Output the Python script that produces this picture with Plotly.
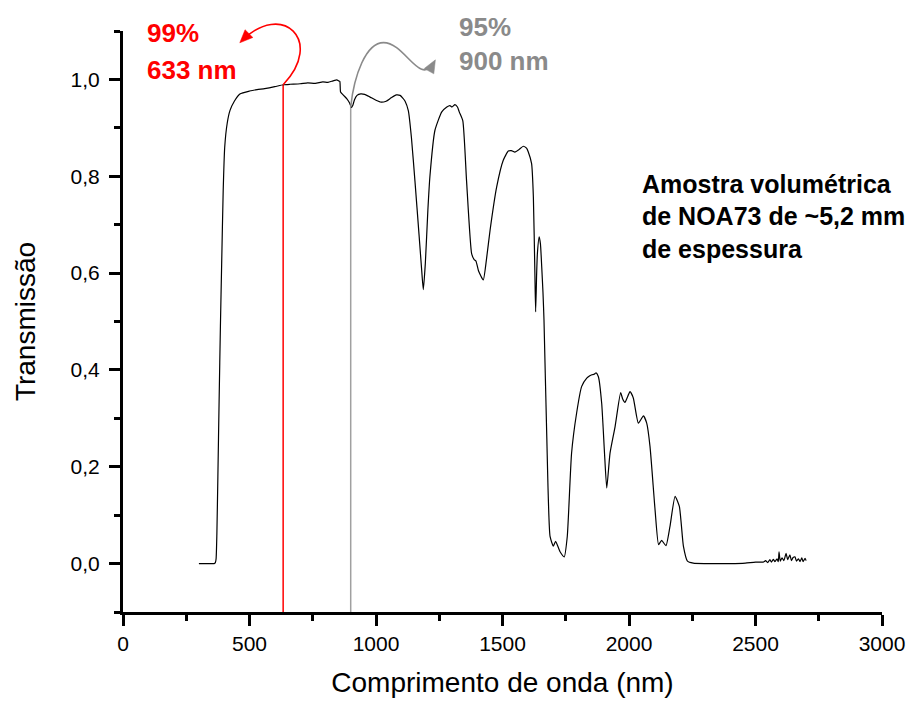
import plotly.graph_objects as go

# ---------------- data ----------------
wavelength = [300, 330, 360, 365, 368, 371, 375, 380, 385, 390, 396, 402, 412, 423, 440, 462,
              500, 530, 560, 600, 633, 660, 700, 730, 760, 790, 810, 830, 845, 852, 857,
              860, 870, 885, 895, 903, 908, 915, 925, 940, 955, 975, 1000, 1020, 1040, 1060,
              1080, 1095, 1105, 1115, 1128, 1140, 1154, 1170, 1180, 1187, 1195, 1205, 1213,
              1233, 1260, 1280, 1292, 1300, 1312, 1322, 1329, 1343, 1358, 1378, 1388, 1395,
              1405, 1424, 1437, 1451, 1477, 1503, 1523, 1535, 1549, 1565, 1582, 1595, 1602,
              1615, 1622, 1628, 1631, 1635, 1638, 1645, 1650, 1655, 1660, 1664, 1675, 1688,
              1701, 1710, 1727, 1744, 1756, 1773, 1793, 1813, 1833, 1845, 1853, 1862, 1870,
              1879, 1892, 1903, 1912, 1925, 1945, 1967, 1975, 1984, 2004, 2017, 2037, 2057,
              2070, 2083, 2103, 2117, 2129, 2146, 2162, 2182, 2199, 2215, 2231, 2254, 2300,
              2400, 2460, 2500, 2530, 2540, 2548, 2557, 2563, 2570, 2577, 2585, 2590, 2593,
              2598, 2605, 2612, 2621, 2627, 2636, 2642, 2648, 2656, 2662, 2670, 2676, 2683,
              2688, 2696, 2700]
transmission = [0.0, 0.0, 0.0, 0.002, 0.01, 0.06, 0.18, 0.34, 0.49, 0.62, 0.77, 0.86, 0.91, 0.936, 0.955, 0.970,
                0.976, 0.979, 0.981, 0.985, 0.989, 0.990, 0.991, 0.993, 0.992, 0.995, 0.994, 0.997, 0.999, 0.997, 0.996,
                0.974, 0.968, 0.960, 0.952, 0.942, 0.946, 0.958, 0.967, 0.970, 0.969, 0.964, 0.957, 0.953, 0.955, 0.962,
                0.968, 0.967, 0.962, 0.955, 0.935, 0.880, 0.790, 0.680, 0.610, 0.566, 0.620, 0.730, 0.799,
                0.895, 0.933, 0.943, 0.946, 0.943, 0.948, 0.943, 0.933, 0.915, 0.790, 0.640, 0.628, 0.625,
                0.605, 0.586, 0.630, 0.689, 0.778, 0.833, 0.852, 0.853, 0.850, 0.855, 0.862, 0.858, 0.850,
                0.826, 0.757, 0.600, 0.520, 0.600, 0.641, 0.675, 0.660, 0.613, 0.560, 0.503, 0.262, 0.056,
                0.036, 0.046, 0.025, 0.014, 0.056, 0.228, 0.311, 0.366, 0.383, 0.388, 0.390, 0.391, 0.394,
                0.386, 0.331, 0.230, 0.156, 0.228, 0.283, 0.353, 0.340, 0.333, 0.355, 0.342, 0.290, 0.305,
                0.290, 0.242, 0.111, 0.039, 0.048, 0.037, 0.077, 0.139, 0.118, 0.036, 0.005, 0.001, 0.0,
                0.0, 0.001, 0.003, 0.003, 0.006, 0.002, 0.008, 0.003, 0.009, 0.004, 0.010, 0.004, 0.024,
                0.005, 0.012, 0.006, 0.021, 0.008, 0.018, 0.006, 0.012, 0.014, 0.005, 0.010, 0.004, 0.012,
                0.004, 0.011, 0.006]

x_ticks = [0, 500, 1000, 1500, 2000, 2500, 3000]
y_ticks = [0.0, 0.2, 0.4, 0.6, 0.8, 1.0]

red_wl, red_T = 633, 0.989
gray_wl, gray_T = 900, 0.943

X_RANGE = [0, 3000]
Y_RANGE = [-0.1, 1.1]

# ---------------- layout geometry ----------------
W, H = 919, 705
ML, MR, MT, MB = 123, 37, 30.5, 93
PW, PH = W - ML - MR, H - MT - MB

def d2p(x, y):
    """data -> paper"""
    return ((x - X_RANGE[0]) / (X_RANGE[1] - X_RANGE[0]),
            (y - Y_RANGE[0]) / (Y_RANGE[1] - Y_RANGE[0]))

def path_from(points):
    px = [d2p(*p) for p in points]
    s = "M %.5f,%.5f" % px[0]
    for i in range(1, len(px), 3):
        s += " C %.5f,%.5f %.5f,%.5f %.5f,%.5f" % (px[i] + px[i + 1] + px[i + 2])
    return s

def arrowhead(ctrl, end, length=13, half=5.5, ext=3):
    cx, cy = d2p(*ctrl); ex, ey = d2p(*end)
    cx, cy, ex, ey = cx * PW, cy * PH, ex * PW, ey * PH
    dx, dy = ex - cx, ey - cy
    n = (dx * dx + dy * dy) ** 0.5
    dx, dy = dx / n, dy / n
    tx, ty = ex + dx * ext, ey + dy * ext
    bx, by = tx - dx * length, ty - dy * length
    nx, ny = -dy, dx
    pts = [(tx, ty), (bx + nx * half, by + ny * half), (bx - nx * half, by - ny * half)]
    return "M " + " L ".join("%.5f,%.5f" % (p[0] / PW, p[1] / PH) for p in pts) + " Z"

red_curve = [(red_wl, red_T), (798, 1.080), (628, 1.163), (470, 1.080)]
gray_curve = [(gray_wl, gray_T), (913, 1.008), (960, 1.076), (1030, 1.076),
              (1115, 1.076), (1174, 0.984), (1229, 1.035)]

RED = "#ff0000"
GRAY = "#8a8a8a"
FONT = "Arial, Liberation Sans, sans-serif"

fig = go.Figure()
fig.add_trace(go.Scatter(x=[red_wl, red_wl], y=[Y_RANGE[0], red_T], mode="lines",
                         line=dict(color=RED, width=1.5), hoverinfo="skip"))
fig.add_trace(go.Scatter(x=[gray_wl, gray_wl], y=[Y_RANGE[0], gray_T], mode="lines",
                         line=dict(color="#a0a0a0", width=1.5), hoverinfo="skip"))
fig.add_trace(go.Scatter(x=wavelength, y=transmission, mode="lines",
                         line=dict(color="black", width=1.2, shape="spline", smoothing=0.5)))

shapes = [
    dict(type="path", xref="paper", yref="paper", path=path_from(red_curve),
         line=dict(color=RED, width=1.6)),
    dict(type="path", xref="paper", yref="paper", path=arrowhead(red_curve[-2], red_curve[-1]),
         line=dict(color=RED, width=0.5), fillcolor=RED),
    dict(type="path", xref="paper", yref="paper", path=path_from(gray_curve),
         line=dict(color=GRAY, width=1.6)),
    dict(type="path", xref="paper", yref="paper", path=arrowhead(gray_curve[-2], gray_curve[-1]),
         line=dict(color=GRAY, width=0.5), fillcolor=GRAY),
]

def label(text, x, y, color, size=26):
    px, py = d2p(x, y)
    return dict(text="<b>%s</b>" % text, x=px, y=py, xref="paper", yref="paper", xanchor="left",
                yanchor="middle", showarrow=False, font=dict(family=FONT, size=size, color=color))

annotations = [
    label("99%", 85, 1.095, RED),
    label("633 nm", 85, 1.019, RED),
    label("95%", 1322, 1.109, GRAY),
    label("900 nm", 1322, 1.039, GRAY),
    label("Amostra volumétrica", 2045, 0.785, "black", 25),
    label("de NOA73 de ~5,2 mm", 2045, 0.718, "black", 25),
    label("de espessura", 2045, 0.650, "black", 25),
]

axis_common = dict(showline=True, linewidth=3, linecolor="black", ticks="outside",
                   ticklen=11, tickwidth=3, tickcolor="black", showgrid=False, zeroline=False,
                   tickfont=dict(family=FONT, size=21, color="black"), mirror=False)

fig.update_layout(
    width=W, height=H,
    margin=dict(l=ML, r=MR, t=MT, b=MB),
    plot_bgcolor="white", paper_bgcolor="white",
    showlegend=False,
    separators=", ",
    shapes=shapes,
    annotations=annotations,
    xaxis=dict(range=X_RANGE, tickmode="array", tickvals=x_ticks,
               ticktext=[str(v) for v in x_ticks],
               minor=dict(dtick=250, tick0=0, ticks="outside", ticklen=6, tickwidth=3,
                          tickcolor="black", showgrid=False),
               title=dict(text="Comprimento de onda (nm)", standoff=19,
                          font=dict(family=FONT, size=28, color="black")),
               **axis_common),
    yaxis=dict(range=Y_RANGE, tickmode="array", tickvals=y_ticks,
               ticktext=[("%.1f" % v).replace(".", ",") for v in y_ticks],
               ticklabelstandoff=5,
               minor=dict(dtick=0.1, tick0=-0.1, ticks="outside", ticklen=6, tickwidth=3,
                          tickcolor="black", showgrid=False),
               title=dict(text="Transmissão", standoff=27,
                          font=dict(family=FONT, size=28, color="black")),
               **axis_common),
)

fig.write_html("out.html")
